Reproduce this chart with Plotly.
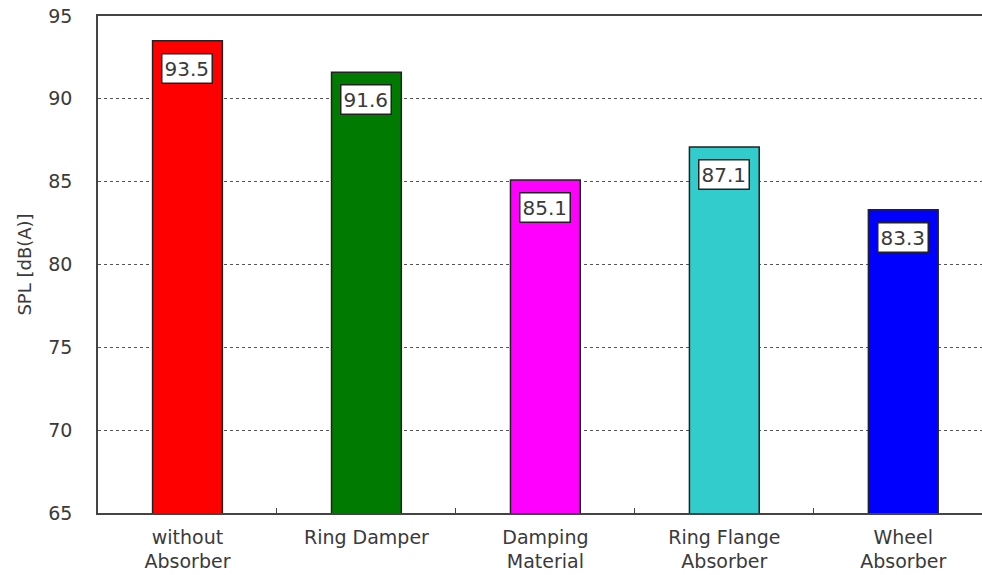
import plotly.graph_objects as go

categories = ["without<br>Absorber", "Ring Damper", "Damping<br>Material",
              "Ring Flange<br>Absorber", "Wheel<br>Absorber"]
spl_values = [93.5, 91.6, 85.1, 87.1, 83.3]
bar_colors = ["#FF0000", "#007A00", "#FF00FF", "#33CCCC", "#0000FF"]
y_ticks = [65, 70, 75, 80, 85, 90, 95]

FONT = "DejaVu Sans"
TXT = "#3a3a3a"

fig = go.Figure()
fig.add_trace(go.Bar(
    x=categories,
    y=spl_values,
    base=0,
    width=0.39,
    marker=dict(color=bar_colors, line=dict(color="#222222", width=1.5)),
    showlegend=False,
    hoverinfo="skip",
))

# value boxes sitting just under the top of each bar
for cat, v in zip(categories, spl_values):
    fig.add_annotation(
        x=cat, y=v, xref="x", yref="y",
        text=f"{v:.1f}", showarrow=False,
        yanchor="top", yshift=-12,
        font=dict(family=FONT, size=20, color=TXT),
        bgcolor="white", bordercolor="#222222", borderwidth=1.5, borderpad=2,
    )

fig.update_layout(
    width=982, height=575,
    margin=dict(l=98, r=0, t=16, b=62),
    paper_bgcolor="white", plot_bgcolor="white",
    font=dict(family=FONT, color=TXT),
)

fig.update_xaxes(
    type="category",
    range=[-0.5, 4.44],
    automargin=False,
    tickfont=dict(family=FONT, size=19, color=TXT),
    showline=True, linecolor="#444444", linewidth=1.5, mirror=True,
    showgrid=False, zeroline=False,
    ticks="inside", ticklen=5, tickcolor="#444444", tickwidth=1.2,
    tickson="boundaries", ticklabelstandoff=6,
)

fig.update_yaxes(
    range=[65, 95],
    automargin=False,
    tickmode="array", tickvals=y_ticks,
    tickfont=dict(family=FONT, size=19, color=TXT),
    ticks="", ticklabelstandoff=20,
    showline=True, linecolor="#444444", linewidth=1.5,
    showgrid=True, gridcolor="#555555", gridwidth=1, griddash="3px,3px",
    zeroline=False,
    title=dict(text="SPL [dB(A)]", font=dict(family=FONT, size=18, color=TXT), standoff=12),
)

fig.write_html("out.html")
